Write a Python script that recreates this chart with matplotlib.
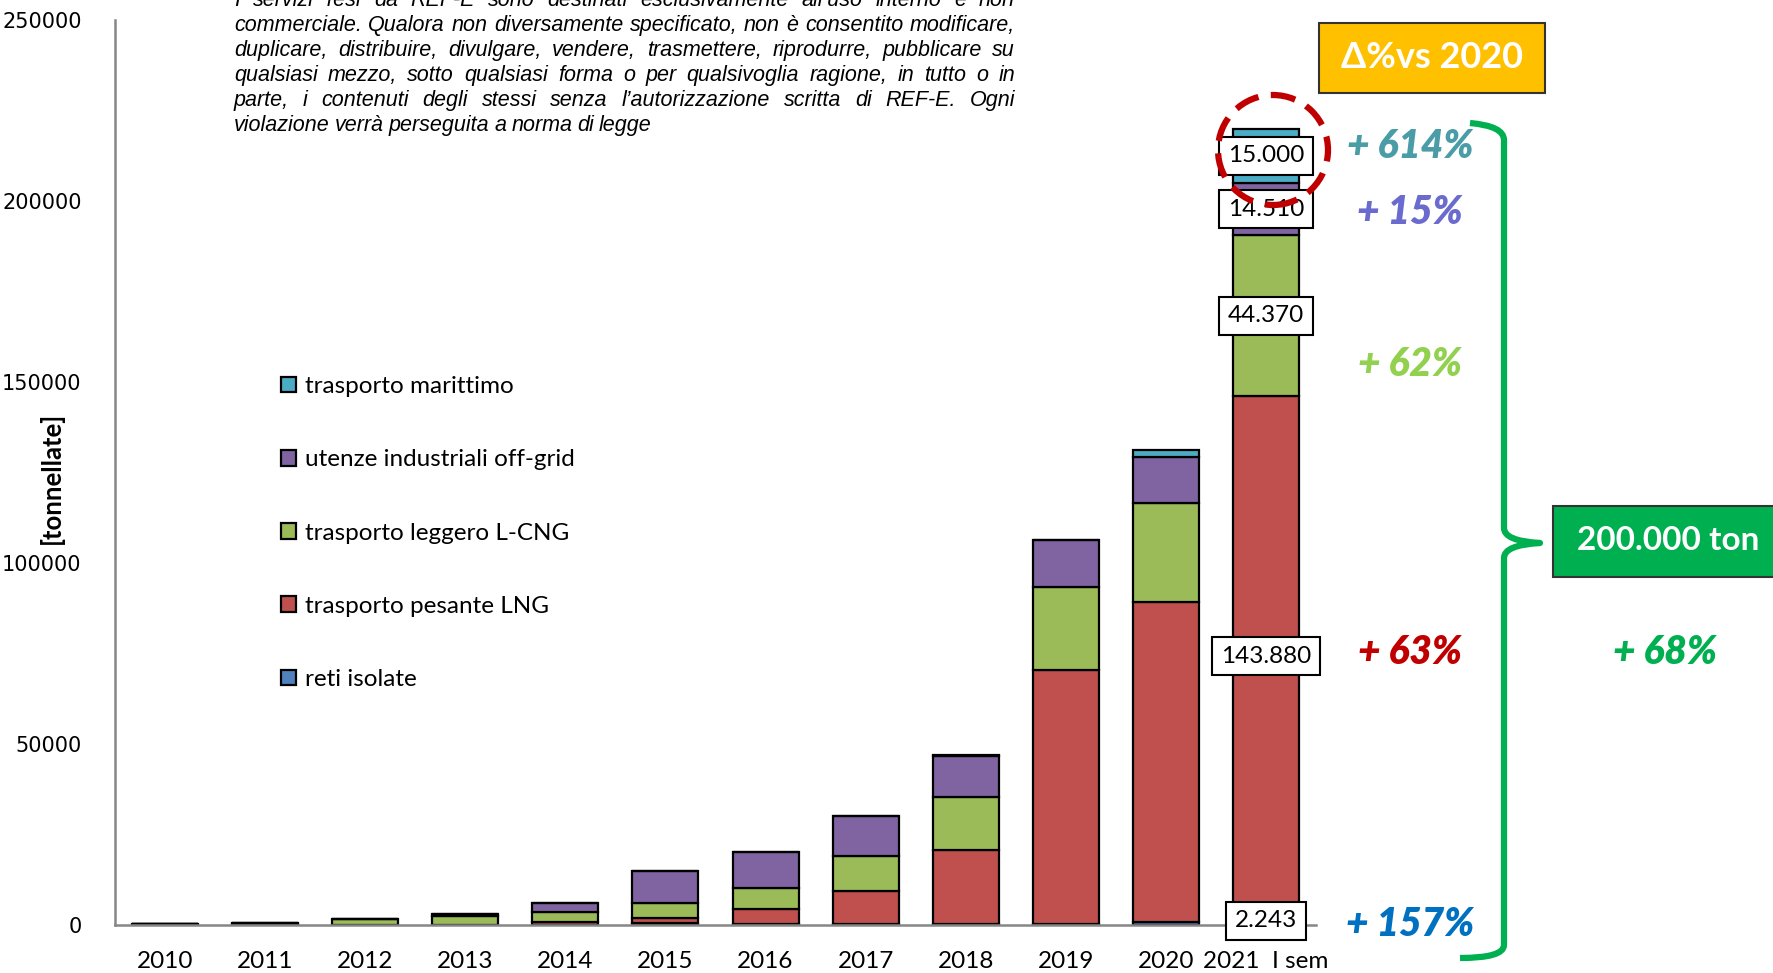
import numpy as np
import matplotlib.pyplot as plt
from matplotlib.patches import Rectangle, Ellipse, PathPatch
from matplotlib.path import Path

# dati (tonnellate)
anni = ['2010', '2011', '2012', '2013', '2014', '2015', '2016', '2017',
        '2018', '2019', '2020', '2021  I sem']
reti_isolate = [250, 150, 0, 0, 0, 600, 400, 300, 300, 400, 873, 2243]
trasporto_pesante = [0, 0, 0, 0, 900, 1200, 4000, 9100, 20300, 70000, 88270, 143880]
trasporto_leggero = [0, 300, 1650, 2400, 2800, 4400, 5900, 9600, 14700, 23100, 27389, 44370]
utenze_offgrid = [0, 0, 0, 700, 2300, 8800, 10000, 11000, 11300, 12900, 12617, 14510]
trasporto_marittimo = [0, 0, 0, 0, 0, 0, 0, 0, 300, 0, 2100, 15000]

serie = ['reti isolate', 'trasporto pesante LNG', 'trasporto leggero L-CNG',
         'utenze industriali off-grid', 'trasporto marittimo']
colori = ['#4F81BD', '#C0504D', '#9BBB59', '#8064A2', '#4BACC6']

etichette_2021 = ['2.243', '143.880', '44.370', '14.510', '15.000']
delta_testi = ['+ 157%', '+ 63%', '+ 62%', '+ 15%', '+ 614%']
delta_colori = ['#0070C0', '#C00000', '#92D050', '#6B6BCF', '#4A9CA6']

disclaimer = [
    "I servizi resi da REF-E sono destinati esclusivamente all’uso interno e non",
    "commerciale. Qualora non diversamente specificato, non è consentito modificare,",
    "duplicare, distribuire, divulgare, vendere, trasmettere, riprodurre, pubblicare su",
    "qualsiasi mezzo, sotto qualsiasi forma o per qualsivoglia ragione, in tutto o in",
    "parte, i contenuti degli stessi senza l’autorizzazione scritta di REF-E. Ogni",
    "violazione verrà perseguita a norma di legge",
]

W, H = 1773, 973


def fx(px):
    return px / W


def fy(py):
    # pixel dall'alto -> frazione figura
    return 1 - py / H


fig = plt.figure(figsize=(W / 100, H / 100), dpi=100)
ax = fig.add_axes([fx(115), fy(925), fx(1316) - fx(115), fy(20) - fy(925)])

dati = [reti_isolate, trasporto_pesante, trasporto_leggero, utenze_offgrid, trasporto_marittimo]
x = np.arange(len(anni))
base = np.zeros(len(anni))
mid_2021 = []
for nome, col, vals in zip(serie, colori, dati):
    vals = np.array(vals, dtype=float)
    ax.bar(x, vals, 0.66, bottom=base, color=col, edgecolor='black', linewidth=1.6,
           label=nome, zorder=2)
    mid_2021.append(base[-1] + vals[-1] / 2)
    base = base + vals

ax.set_xlim(-0.5, 11.5)
ax.set_ylim(0, 250000)
ax.set_yticks(np.arange(0, 250001, 50000))
ax.set_xticks(x)
ax.set_xticklabels(anni, fontfamily='Lato', fontsize=17.5)
for lab in ax.get_yticklabels():
    lab.set_fontfamily('DejaVu Sans')
    lab.set_fontsize(15)
ax.tick_params(axis='y', length=0, pad=24)
ax.tick_params(axis='x', length=0, pad=19)
for s in ['top', 'right']:
    ax.spines[s].set_visible(False)
for s in ['left', 'bottom']:
    ax.spines[s].set_color('#868686')
    ax.spines[s].set_linewidth(1.8)

fig.text(fx(51), fy(478), '[tonnellate]', rotation=90, ha='center', va='center',
         fontfamily='Lato', fontweight='bold', fontsize=18.5)

# legenda
h, l = ax.get_legend_handles_labels()
fig.legend(h[::-1], l[::-1], loc='upper left', bbox_to_anchor=(fx(281), fy(376)),
           frameon=False, prop={'family': 'Lato', 'size': 17.5}, labelspacing=2.15,
           handlelength=0.62, handleheight=0.62, handletextpad=0.35, borderpad=0,
           borderaxespad=0)

# etichette 2021
for y, t in zip(mid_2021, etichette_2021):
    ax.text(11, y, t, ha='center', va='center', fontfamily='Lato', fontsize=17.5,
            zorder=5, bbox=dict(boxstyle='square,pad=0.35', fc='white', ec='black', lw=1.5))

# variazioni % vs 2020
delta_y = [924, 652, 364, 213, 147]
for py, t, c in zip(delta_y, delta_testi, delta_colori):
    fig.text(fx(1410), fy(py), t, ha='center', va='center', color=c,
             fontfamily='Lato', fontweight='heavy', fontstyle='italic', fontsize=28)
fig.text(fx(1665), fy(652), '+ 68%', ha='center', va='center', color='#00B050',
         fontfamily='Lato', fontweight='heavy', fontstyle='italic', fontsize=28)

# box
fig.patches.append(Rectangle((fx(1319), fy(93)), fx(1545) - fx(1319), fy(23) - fy(93),
                             transform=fig.transFigure, fc='#FFC000', ec='#333333', lw=1.5))
fig.text(fx(1432), fy(58), 'Δ%vs 2020', ha='center', va='center', color='white',
         fontfamily='Lato', fontweight='bold', fontsize=26)
fig.patches.append(Rectangle((fx(1553), fy(577)), fx(1790) - fx(1553), fy(506) - fy(577),
                             transform=fig.transFigure, fc='#00B050', ec='#333333', lw=1.5))
fig.text(fx(1668), fy(541), '200.000 ton', ha='center', va='center', color='white',
         fontfamily='Lato', fontweight='bold', fontsize=24)

# parentesi graffa
vx = 1504
pts = [(1470, 123), (1504, 126), (vx, 140), (vx, 528), (vx, 541), (1540, 543),
       (vx, 545), (vx, 558), (vx, 945), (vx, 958), (1460, 958)]
codes = [Path.MOVETO, Path.CURVE3, Path.CURVE3, Path.LINETO, Path.CURVE3, Path.CURVE3,
         Path.CURVE3, Path.CURVE3, Path.LINETO, Path.CURVE3, Path.CURVE3]
brace = Path([(fx(a), fy(b)) for a, b in pts], codes)
fig.patches.append(PathPatch(brace, transform=fig.transFigure, fc='none', ec='#00B050',
                             lw=4.5, capstyle='butt', joinstyle='round'))

# cerchio tratteggiato
fig.patches.append(Ellipse((fx(1273), fy(150)), 110 / W, 110 / H, transform=fig.transFigure,
                           fc='none', ec='#C00000', lw=4.5, linestyle=(0, (4, 2)), zorder=6))

# testo disclaimer giustificato
renderer = fig.canvas.get_renderer()
fam = ['Liberation Sans Narrow', 'Liberation Sans']
left, right = 234, 1015
base_y = [6, 31, 56, 81, 106, 131]
for i, (riga, py) in enumerate(zip(disclaimer, base_y)):
    parole = riga.split(' ')
    objs = [fig.text(0, fy(py), p, fontfamily=fam, fontstyle='italic', fontsize=15.5,
                     va='baseline', ha='left') for p in parole]
    larg = [o.get_window_extent(renderer).width for o in objs]
    if i < len(disclaimer) - 1:
        gap = (right - left - sum(larg)) / (len(parole) - 1)
    else:
        gap = 5
    xp = left
    for o, w in zip(objs, larg):
        o.set_x(fx(xp))
        xp += w + gap

fig.savefig('out.png', dpi=100)
